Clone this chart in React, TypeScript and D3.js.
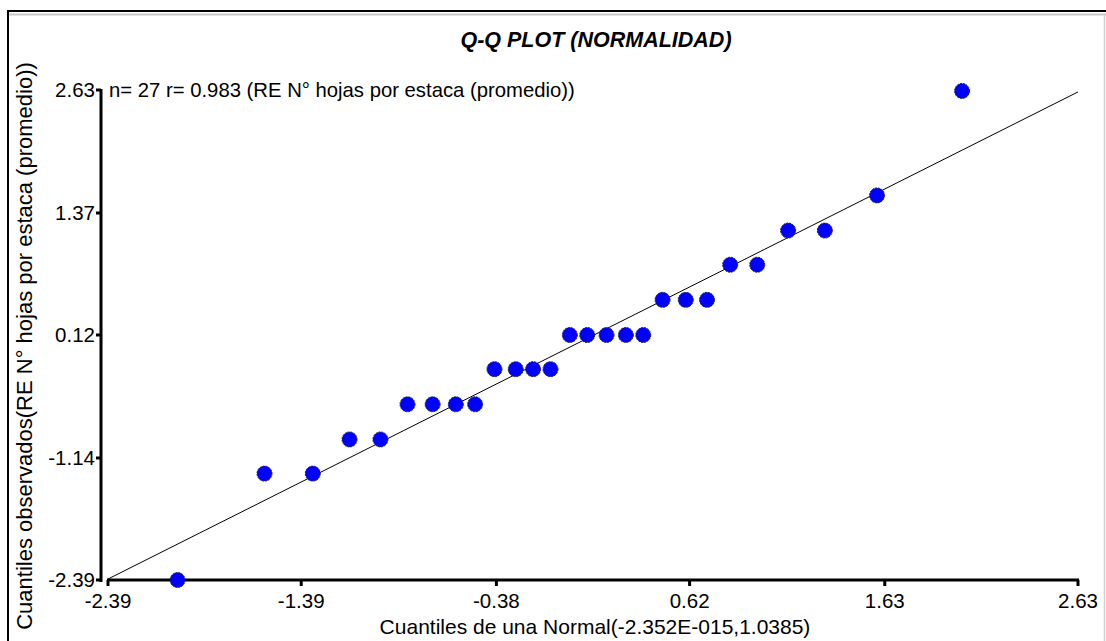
import React from "react";
import * as d3 from "d3";

// Theoretical quantiles (x) and observed quantiles (y)
const theoretical = [
  -2.03, -1.58, -1.33, -1.14, -0.98, -0.84, -0.71, -0.59, -0.49, -0.39, -0.28, -0.19, -0.1,
  0.0, 0.09, 0.19, 0.29, 0.38, 0.48, 0.6, 0.71, 0.83, 0.97, 1.13, 1.32, 1.59, 2.03,
];
const observed = [
  -2.39, -1.3, -1.3, -0.95, -0.95, -0.59, -0.59, -0.59, -0.59, -0.23, -0.23, -0.23, -0.23,
  0.12, 0.12, 0.12, 0.12, 0.12, 0.48, 0.48, 0.48, 0.84, 0.84, 1.19, 1.19, 1.55, 2.62,
];
const refLineX = [-2.39, 2.63];
const refLineY = [-2.38, 2.61];
const xTicks = [-2.39, -1.39, -0.38, 0.62, 1.63, 2.63];
const yTicks = [2.63, 1.37, 0.12, -1.14, -2.39];
const title = "Q-Q PLOT (NORMALIDAD)";
const annotation = "n= 27 r= 0.983 (RE N\u00b0 hojas por estaca (promedio))";
const xTitle = "Cuantiles de una Normal(-2.352E-015,1.0385)";
const yTitle = "Cuantiles observados(RE N\u00b0 hojas por estaca (promedio))";

const W = 1106;
const H = 641;
const FONT = "'Liberation Sans', Arial, sans-serif";

export default function App() {
  const x = d3.scaleLinear().domain([-2.39, 2.63]).range([108, 1078]);
  const y = d3.scaleLinear().domain([-2.39, 2.63]).range([580, 90]);
  const yAxisX = 101;
  const line = d3
    .line<number>()
    .x((d) => x(refLineX[d]))
    .y((d) => y(refLineY[d]));

  return (
    <svg
      width={W}
      height={H}
      style={{ position: "absolute", left: 0, top: 0, background: "#fff" }}
      fontFamily={FONT}
    >
      <rect x={0} y={0} width={W} height={H} fill="#fff" />
      {/* frame */}
      <line x1={8} y1={11} x2={W} y2={11} stroke="#000" strokeWidth={2} />
      <line x1={9} y1={14.5} x2={W} y2={14.5} stroke="#c8c8c8" strokeWidth={2} />
      <line x1={8} y1={10} x2={8} y2={H} stroke="#000" strokeWidth={2} />
      <line x1={1104.5} y1={15} x2={1104.5} y2={H} stroke="#d0d0d0" strokeWidth={1.5} />

      {/* title */}
      <text x={596} y={47} textAnchor="middle" fontSize={21.5} fontWeight="bold" fontStyle="italic" fill="#000">
        {title}
      </text>

      {/* y axis */}
      <line x1={yAxisX} y1={y(2.63) - 1} x2={yAxisX} y2={y(-2.39) + 2} stroke="#000" strokeWidth={3} />
      {yTicks.map((t) => (
        <g key={"yt" + t}>
          <line x1={yAxisX - 5} y1={y(t)} x2={yAxisX} y2={y(t)} stroke="#000" strokeWidth={3} />
          <text x={95} y={y(t) + 7} textAnchor="end" fontSize={20.5} fill="#000">
            {t.toFixed(2)}
          </text>
        </g>
      ))}

      {/* x axis */}
      <line x1={x(-2.39) - 1} y1={580} x2={x(2.63) + 1} y2={580} stroke="#000" strokeWidth={3} />
      {xTicks.map((t) => (
        <g key={"xt" + t}>
          <line x1={x(t)} y1={580} x2={x(t)} y2={586} stroke="#000" strokeWidth={3} />
          <text x={x(t)} y={608} textAnchor="middle" fontSize={20.5} fill="#000">
            {t.toFixed(2)}
          </text>
        </g>
      ))}

      {/* axis titles */}
      <text x={595} y={634} textAnchor="middle" fontSize={21} fill="#000">
        {xTitle}
      </text>
      <text
        transform={`translate(32,346) rotate(-90)`}
        textAnchor="middle"
        fontSize={22}
        fill="#000"
      >
        {yTitle}
      </text>

      {/* annotation */}
      <text x={109} y={97} fontSize={20.3} fill="#000">
        {annotation}
      </text>

      {/* reference line */}
      <path d={line([0, 1]) || ""} fill="none" stroke="#000" strokeWidth={1} />

      {/* points */}
      {theoretical.map((t, i) => (
        <circle
          key={"p" + i}
          cx={x(t)}
          cy={y(observed[i])}
          r={7.5}
          fill="#0000ff"
          stroke="#1a1a55"
          strokeWidth={1}
          strokeDasharray="2 1"
        />
      ))}
    </svg>
  );
}
